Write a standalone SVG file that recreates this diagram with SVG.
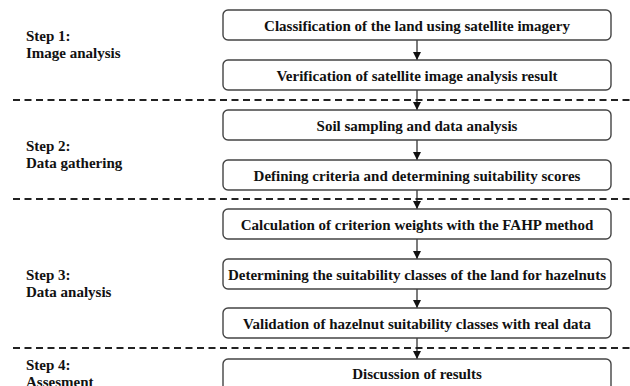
<svg xmlns="http://www.w3.org/2000/svg" width="630" height="386" viewBox="0 0 630 386">
<style>
.box{fill:#fff;stroke:#444;stroke-width:1.4}
.t{font-family:'Liberation Serif','DejaVu Serif',serif;font-weight:700;font-size:15px;fill:#111}
.c{text-anchor:middle}
.sep{stroke:#222;stroke-width:2;stroke-dasharray:7 4.5}
.ar{stroke:#222;stroke-width:1.2;fill:none}
</style>
<defs>
<marker id="ah" viewBox="0 0 10 10" refX="10" refY="5" markerWidth="8" markerHeight="8" markerUnits="userSpaceOnUse" orient="auto">
<path d="M0,0 L10,5 L0,10 z" fill="#111"/>
</marker>
</defs>
<rect width="630" height="386" fill="#fff"/>
<g id="separators">
<line class="sep" x1="13" y1="100" x2="630" y2="100"/>
<line class="sep" x1="13" y1="199" x2="630" y2="199"/>
<line class="sep" x1="13" y1="348" x2="630" y2="348"/>
</g>
<g id="labels">
<text class="t" x="26" y="41">Step 1:</text>
<text class="t" x="26" y="58">Image analysis</text>
<text class="t" x="26" y="151">Step 2:</text>
<text class="t" x="26" y="168">Data gathering</text>
<text class="t" x="26" y="280">Step 3:</text>
<text class="t" x="26" y="297">Data analysis</text>
<text class="t" x="26" y="370">Step 4:</text>
<text class="t" x="26" y="387">Assesment</text>
</g>
<g id="connectors">
<line class="ar" x1="417" y1="40" x2="417" y2="60" marker-end="url(#ah)"/>
<line class="ar" x1="417" y1="90" x2="417" y2="110" marker-end="url(#ah)"/>
<line class="ar" x1="417" y1="140" x2="417" y2="160" marker-end="url(#ah)"/>
<line class="ar" x1="417" y1="190" x2="417" y2="209" marker-end="url(#ah)"/>
<line class="ar" x1="417" y1="239" x2="417" y2="259" marker-end="url(#ah)"/>
<line class="ar" x1="417" y1="289" x2="417" y2="308" marker-end="url(#ah)"/>
<line class="ar" x1="417" y1="338" x2="417" y2="359" marker-end="url(#ah)"/>
</g>
<g id="n1"><rect class="box" x="223" y="10" width="388" height="30" rx="5"/><text class="t c" x="417" y="31">Classification of the land using satellite imagery</text></g>
<g id="n2"><rect class="box" x="223" y="60" width="388" height="30" rx="5"/><text class="t c" x="417" y="81">Verification of satellite image analysis result</text></g>
<g id="n3"><rect class="box" x="223" y="110" width="388" height="30" rx="5"/><text class="t c" x="417" y="131">Soil sampling and data analysis</text></g>
<g id="n4"><rect class="box" x="223" y="160" width="388" height="30" rx="5"/><text class="t c" x="417" y="181">Defining criteria and determining suitability scores</text></g>
<g id="n5"><rect class="box" x="223" y="209" width="388" height="30" rx="5"/><text class="t c" x="417" y="230">Calculation of criterion weights with the FAHP method</text></g>
<g id="n6"><rect class="box" x="223" y="259" width="388" height="30" rx="5"/><text class="t c" x="417" y="280">Determining the suitability classes of the land for hazelnuts</text></g>
<g id="n7"><rect class="box" x="223" y="308" width="388" height="30" rx="5"/><text class="t c" x="417" y="329">Validation of hazelnut suitability classes with real data</text></g>
<g id="n8"><rect class="box" x="223" y="359" width="388" height="40" rx="5"/><text class="t c" x="417" y="379">Discussion of results</text></g>
</svg>
